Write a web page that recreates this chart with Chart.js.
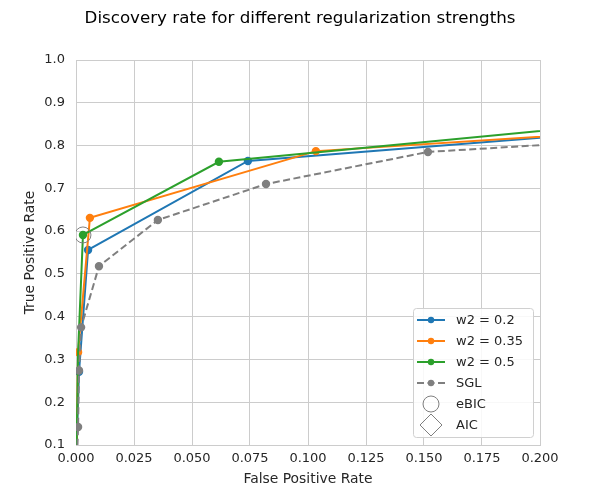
<!DOCTYPE html>
<html>
<head>
<meta charset="utf-8">
<script src="https://cdn.jsdelivr.net/npm/chart.js@4"></script>
<style>
  body { margin: 0; background: #fff; }
  #wrap { width: 600px; height: 500px; }
</style>
</head>
<body>
<div id="wrap"><canvas id="rocChart"></canvas></div>
<script>
// values
const fprW02 = [0.0000, 0.0003, 0.0013, 0.0052, 0.0741, 0.30];
const tprW02 = [0.00, 0.10, 0.271, 0.556, 0.764, 0.861];
const fprW035 = [0.0000, 0.0009, 0.0060, 0.1034, 0.30];
const tprW035 = [0.00, 0.317, 0.631, 0.787, 0.855];
const fprW05 = [0.0000, 0.0009, 0.0030, 0.0616, 0.30];
const tprW05 = [0.00, 0.317, 0.591, 0.762, 0.886];
const fprSGL = [0.0000, 0.0009, 0.0013, 0.0022, 0.0099, 0.0353, 0.0819, 0.1517, 0.30];
const tprSGL = [0.00, 0.142, 0.274, 0.375, 0.518, 0.626, 0.710, 0.785, 0.834];
const ebicPoint = [0.0030, 0.591];

const xTicks = [0, 0.025, 0.05, 0.075, 0.1, 0.125, 0.15, 0.175, 0.2];

const FONT = 'DejaVu Sans';
const TEXT = '#262626';
const GRID = '#cccccc';
const TITLE = 'Discovery rate for different regularization strengths';

function pts(xs, ys) {
  return xs.map((x, i) => ({ x: x, y: ys[i] }));
}

// figure title, centred on the whole canvas
const figTitle = {
  id: 'figTitle',
  afterDraw(chart) {
    const ctx = chart.ctx;
    ctx.save();
    ctx.font = '16.7px ' + FONT;
    ctx.fillStyle = '#000';
    ctx.textAlign = 'center';
    ctx.textBaseline = 'middle';
    ctx.fillText(TITLE, chart.width / 2, 19);
    ctx.restore();
  }
};

// legend inside the plot (lower right), like matplotlib
const innerLegend = {
  id: 'innerLegend',
  afterDraw(chart) {
    const ctx = chart.ctx;
    const area = chart.chartArea;
    const w = 120, h = 129;
    const x0 = area.right - 7 - w;
    const y0 = area.bottom - 8 - h;
    ctx.save();
    ctx.fillStyle = 'rgba(255,255,255,0.85)';
    ctx.strokeStyle = '#d0d0d0';
    ctx.lineWidth = 1;
    ctx.beginPath();
    ctx.roundRect(x0 + 0.5, y0 + 0.5, w, h, 3);
    ctx.fill();
    ctx.stroke();
    ctx.font = '13px ' + FONT;
    ctx.textBaseline = 'middle';
    chart.data.datasets.forEach((ds, i) => {
      const cy = y0 + 12 + i * 21;
      const lx = x0 + 4;
      ctx.strokeStyle = ds.borderColor;
      ctx.fillStyle = ds.borderColor;
      if (ds.legendKind === 'line') {
        ctx.lineWidth = 2;
        ctx.setLineDash(ds.borderDash || []);
        ctx.beginPath();
        ctx.moveTo(lx, cy);
        ctx.lineTo(lx + 28, cy);
        ctx.stroke();
        ctx.setLineDash([]);
        ctx.beginPath();
        ctx.arc(lx + 14, cy, 3.2, 0, Math.PI * 2);
        ctx.fill();
      } else if (ds.legendKind === 'circle') {
        ctx.lineWidth = 1;
        ctx.beginPath();
        ctx.arc(lx + 14, cy, 8, 0, Math.PI * 2);
        ctx.stroke();
      } else if (ds.legendKind === 'diamond') {
        ctx.lineWidth = 1;
        ctx.beginPath();
        ctx.moveTo(lx + 14, cy - 11);
        ctx.lineTo(lx + 25, cy);
        ctx.lineTo(lx + 14, cy + 11);
        ctx.lineTo(lx + 3, cy);
        ctx.closePath();
        ctx.stroke();
      }
      ctx.fillStyle = TEXT;
      ctx.fillText(ds.label, lx + 39, cy + 1);
    });
    ctx.restore();
  }
};

const ctx = document.getElementById('rocChart');
new Chart(ctx, {
  type: 'line',
  data: {
    datasets: [
      {
        label: 'w2 = 0.2',
        legendKind: 'line',
        data: pts(fprW02, tprW02),
        borderColor: '#1f77b4',
        backgroundColor: '#1f77b4',
        borderWidth: 2,
        pointRadius: [0, 0, 3.2, 3.2, 3.2, 3.2],
        order: 4
      },
      {
        label: 'w2 = 0.35',
        legendKind: 'line',
        data: pts(fprW035, tprW035),
        borderColor: '#ff7f0e',
        backgroundColor: '#ff7f0e',
        borderWidth: 2,
        pointRadius: [0, 3.2, 3.2, 3.2, 3.2],
        order: 3
      },
      {
        label: 'w2 = 0.5',
        legendKind: 'line',
        data: pts(fprW05, tprW05),
        borderColor: '#2ca02c',
        backgroundColor: '#2ca02c',
        borderWidth: 2,
        pointRadius: [0, 0, 3.2, 3.2, 3.2],
        order: 2
      },
      {
        label: 'SGL',
        legendKind: 'line',
        data: pts(fprSGL, tprSGL),
        borderColor: '#7f7f7f',
        backgroundColor: '#7f7f7f',
        borderWidth: 2,
        borderDash: [7, 3.5],
        pointRadius: [0, 3.2, 3.2, 3.2, 3.2, 3.2, 3.2, 3.2, 3.2],
        order: 1
      },
      {
        label: 'eBIC',
        legendKind: 'circle',
        data: [{ x: ebicPoint[0], y: ebicPoint[1] }],
        showLine: false,
        borderColor: '#7f7f7f',
        backgroundColor: 'rgba(0,0,0,0)',
        pointRadius: 8,
        pointBorderWidth: 1,
        order: 0
      },
      {
        label: 'AIC',
        legendKind: 'diamond',
        data: [],
        showLine: false,
        borderColor: '#7f7f7f',
        backgroundColor: 'rgba(0,0,0,0)',
        order: 0
      }
    ]
  },
  options: {
    responsive: true,
    maintainAspectRatio: false,
    animation: false,
    layout: { padding: { left: 22, right: 60, top: 60, bottom: 12 } },
    scales: {
      x: {
        type: 'linear',
        min: 0,
        max: 0.2,
        afterBuildTicks: axis => { axis.ticks = xTicks.map(v => ({ value: v })); },
        afterFit: axis => { axis.height = 43; },
        grid: { color: GRID, drawTicks: false },
        border: { color: GRID },
        ticks: {
          color: TEXT,
          font: { family: FONT, size: 13 },
          padding: 6,
          maxRotation: 0,
          callback: v => v.toFixed(3)
        },
        title: {
          display: true,
          text: 'False Positive Rate',
          color: TEXT,
          font: { family: FONT, size: 13.9 },
          padding: { top: 2, bottom: 0 }
        }
      },
      y: {
        min: 0.1,
        max: 1.0,
        afterFit: axis => { axis.width = 54; },
        grid: { color: GRID, drawTicks: false },
        border: { color: GRID },
        ticks: {
          color: TEXT,
          stepSize: 0.1,
          font: { family: FONT, size: 13 },
          padding: 11,
          callback: v => v.toFixed(1)
        },
        title: {
          display: true,
          text: 'True Positive Rate',
          color: TEXT,
          font: { family: FONT, size: 13.9 },
          padding: { top: 0, bottom: 4 }
        }
      }
    },
    plugins: {
      legend: { display: false },
      tooltip: { enabled: false },
      title: { display: false }
    }
  },
  plugins: [figTitle, innerLegend]
});
</script>
</body>
</html>
